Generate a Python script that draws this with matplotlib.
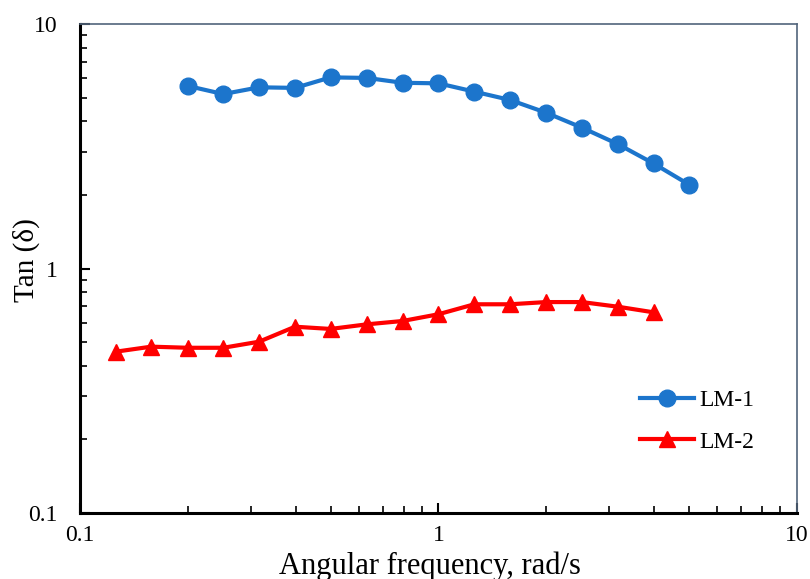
import numpy as np
import matplotlib
matplotlib.use("Agg")
import matplotlib.pyplot as plt
from matplotlib.ticker import LogLocator, FixedLocator, FixedFormatter, NullFormatter

plt.rcParams['font.family'] = ['Liberation Serif', 'DejaVu Serif']

# angular frequency, rad/s
freq_lm1 = [0.2, 0.251, 0.316, 0.398, 0.5, 0.631, 0.794, 1.0, 1.259, 1.585, 1.995, 2.512, 3.162, 3.981, 5.012]
tan_lm1 = [5.58, 5.17, 5.51, 5.48, 6.05, 6.02, 5.75, 5.72, 5.29, 4.89, 4.34, 3.77, 3.23, 2.69, 2.20]

freq_lm2 = [0.126, 0.158, 0.2, 0.251, 0.316, 0.398, 0.5, 0.631, 0.794, 1.0, 1.259, 1.585, 1.995, 2.512, 3.162, 3.981]
tan_lm2 = [0.457, 0.479, 0.474, 0.474, 0.502, 0.578, 0.566, 0.591, 0.610, 0.650, 0.714, 0.714, 0.729, 0.729, 0.698, 0.662]

tick_vals = [0.1, 1, 10]
tick_text = ["0.1", "1", "10"]

fig = plt.figure(figsize=(8.1, 5.79), dpi=100)
ax = fig.add_axes([0.0988, 0.114, 0.885, 0.8445])

ax.plot(freq_lm1, tan_lm1, color="#1C75CC", lw=3, marker="o", ms=12, label="LM-1")
ax.plot(freq_lm2, tan_lm2, color="#FF0000", lw=3, marker="^", ms=12, label="LM-2")

ax.set_xscale("log")
ax.set_yscale("log")
ax.set_xlim(0.1, 10)
ax.set_ylim(0.1, 10)

for a in (ax.xaxis, ax.yaxis):
    a.set_major_locator(FixedLocator(tick_vals))
    a.set_major_formatter(FixedFormatter(tick_text))
    a.set_minor_locator(LogLocator(base=10, subs=np.arange(2, 10)))
    a.set_minor_formatter(NullFormatter())

ax.tick_params(which="major", direction="in", length=7, width=1.5, labelsize=17, top=False, right=False)
ax.tick_params(which="minor", direction="in", length=5, width=1.2, top=False, right=False)
ax.tick_params(axis="x", pad=9)
ax.tick_params(axis="y", pad=16)

for s in ("left", "bottom"):
    ax.spines[s].set_color("black")
    ax.spines[s].set_linewidth(2.2)
for s in ("top", "right"):
    ax.spines[s].set_color("#52657C")
    ax.spines[s].set_linewidth(1.2)

ax.set_xlabel("Angular frequency, rad/s", fontsize=22, va="baseline")
ax.xaxis.set_label_coords(0.488, -0.125)
ax.set_ylabel("Tan (δ)", fontsize=21)
ax.yaxis.set_label_coords(-0.056, 0.517)

ax.legend(loc="lower right", bbox_to_anchor=(0.97, 0.08), frameon=False, fontsize=17,
          handlelength=2.3, handletextpad=0.2, labelspacing=0.85)

fig.savefig("out.png", dpi=100)
